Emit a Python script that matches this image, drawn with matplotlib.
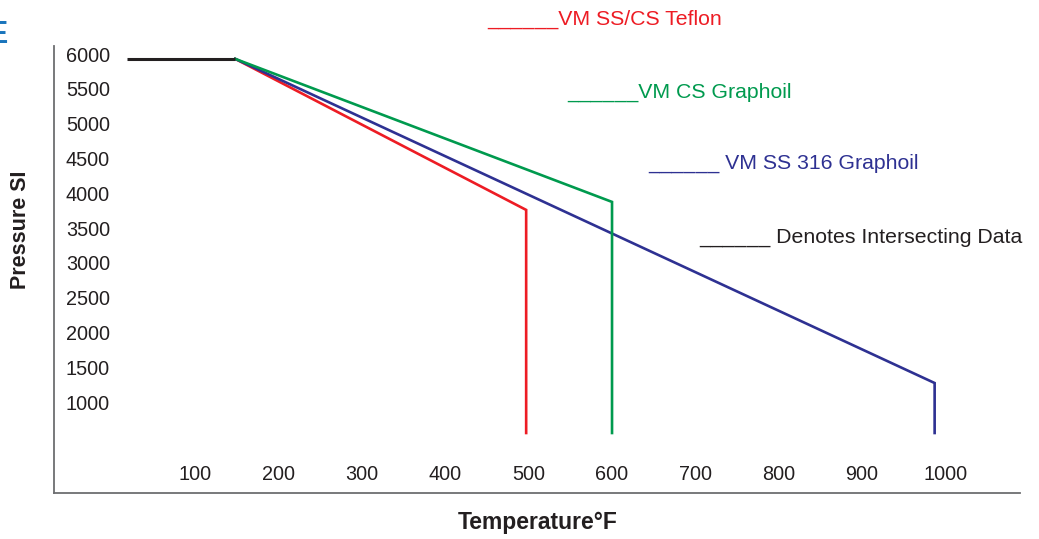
import matplotlib
matplotlib.use("Agg")
import matplotlib.pyplot as plt

plt.rcParams['font.family'] = ['Liberation Sans', 'DejaVu Sans']

# ---- data ----
flat_temp = [18, 148]
flat_press = [5930, 5930]

teflon_temp = [148, 497, 497]
teflon_press = [5930, 3760, 555]

cs_graphoil_temp = [148, 600, 600]
cs_graphoil_press = [5930, 3875, 555]

ss316_temp = [148, 987, 987]
ss316_press = [5930, 1273, 555]

x_ticks = [100, 200, 300, 400, 500, 600, 700, 800, 900, 1000]
x_tick_labels = ['100', '200', '300', '400', '500', '600', '700', '800', '900', '1000']
y_ticks = [6000, 5500, 5000, 4500, 4000, 3500, 3000, 2500, 2000, 1500, 1000]
y_tick_labels = [str(v) for v in y_ticks]

legend_labels = ['______VM SS/CS Teflon', '______VM CS Graphoil',
                 '______ VM SS 316 Graphoil', '______ Denotes Intersecting Data']

RED = '#ed1c24'
GREEN = '#009a4e'
BLUE = '#2e3192'
BLACK = '#231f20'

W, H = 1039, 539
fig = plt.figure(figsize=(W / 100, H / 100), dpi=100)
ax = fig.add_axes([54 / W, (H - 493) / H, (1020 - 54) / W, (493 - 46) / H])

ax.plot(teflon_temp, teflon_press, color=RED, lw=1.9, solid_joinstyle='miter')
ax.plot(ss316_temp, ss316_press, color=BLUE, lw=1.9, solid_joinstyle='miter')
ax.plot(cs_graphoil_temp, cs_graphoil_press, color=GREEN, lw=1.9, solid_joinstyle='miter')
ax.plot(flat_temp, flat_press, color=BLACK, lw=2.2, solid_capstyle='butt')

ax.set_xlim(-69.4, 1089.4)
ax.set_ylim(-307, 6115)

for s in ['top', 'right']:
    ax.spines[s].set_visible(False)
for s in ['left', 'bottom']:
    ax.spines[s].set_color('#6d6e71')
    ax.spines[s].set_linewidth(1.3)

ax.set_xticks(x_ticks)
ax.set_xticklabels(x_tick_labels)
ax.set_yticks(y_ticks)
ax.set_yticklabels(y_tick_labels)
ax.tick_params(axis='both', length=0, labelsize=14.3, labelcolor=BLACK)
ax.tick_params(axis='x', pad=-20.5)
ax.tick_params(axis='y', pad=-40.3)

fig.text(538 / W, 1 - 522 / H, 'Temperature°F', ha='center', va='center',
         fontsize=16.5, fontweight='bold', color=BLACK)
fig.text(21 / W, 1 - 230 / H, 'Pressure SI', ha='center', va='center',
         rotation=90, fontsize=15.5, fontweight='bold', color=BLACK)

legend_colors = [RED, GREEN, BLUE, BLACK]
legend_pos = [(487, 25), (567, 98), (648, 169), (699, 243)]
for lab, col, (px, py) in zip(legend_labels, legend_colors, legend_pos):
    fig.text(px / W, 1 - py / H, lab, ha='left', va='baseline',
             fontsize=15.3, color=col)

# cropped heading letter at top-left edge (cut off in the reference too)
fig.text(-13 / W, 1 - 43 / H, 'E', ha='left', va='baseline', fontsize=23,
         fontweight='bold', color='#1a75bc')

fig.savefig('out.png', dpi=100)
